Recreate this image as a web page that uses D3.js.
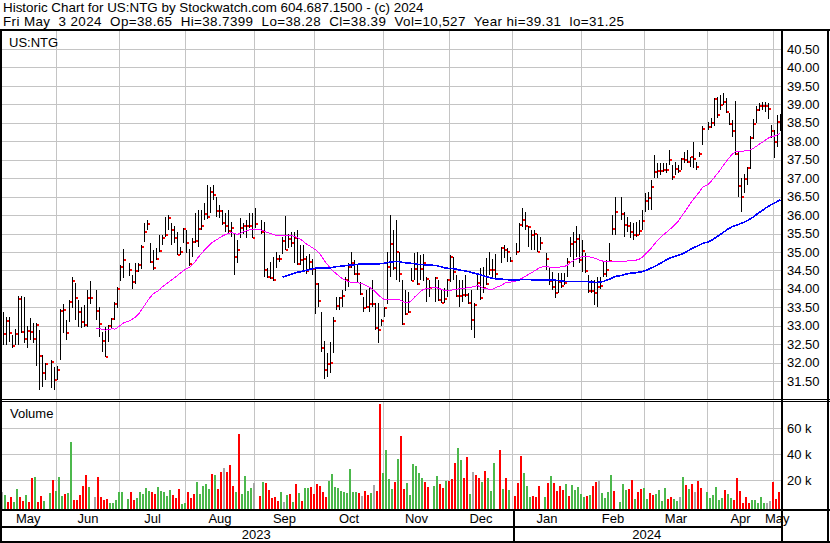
<!DOCTYPE html>
<html><head><meta charset="utf-8">
<script src="https://cdn.jsdelivr.net/npm/d3@7"></script>
<style>
body{margin:0;background:#fff;}
svg text{font-family:"Liberation Sans",Arial,sans-serif;fill:#000;}
</style></head><body><svg id="c" width="830" height="543"></svg>
<script>
// ---------------- data ----------------
const titleLine1 = "Historic Chart for US:NTG by Stockwatch.com 604.687.1500 - (c) 2024";
const titleLine2 = "Fri May  3 2024  Op=38.65  Hi=38.7399  Lo=38.28  Cl=38.39  Vol=10,527  Year hi=39.31  lo=31.25";
const symbol = "US:NTG";
const firstDay = "2023-05-08", lastDay = "2024-05-03";
const holidays = ["2023-05-29","2023-06-19","2023-07-04","2023-09-04","2023-11-23","2023-12-25","2024-01-01","2024-01-15","2024-02-19","2024-03-29"];

const high = [
33.38,33.25,33.23,32.75,32.9,33.81,33.8,33.77,32.98,33.2,33.07,33.07,32.89,32.2,32.0,
32.07,31.87,31.9,33.45,33.59,33.16,33.7,34.33,34.15,33.7,33.52,33.56,33.97,34.2,
33.97,33.52,32.84,32.97,33.02,33.2,33.65,34.06,34.65,35.07,
34.69,34.38,34.69,34.71,35.19,35.78,35.87,35.23,35.05,35.1,
35.46,35.46,35.96,36.0,35.78,35.69,35.55,35.14,35.64,35.59,
35.07,35.37,36.05,36.14,36.14,36.32,36.81,36.77,36.81,36.5,
36.27,36.14,36.05,36.14,35.8,35.5,35.32,35.91,35.78,35.87,
36.05,36.05,36.19,
35.87,35.8,34.56,34.74,34.87,35.01,34.92,35.4,35.97,35.5,
35.55,35.55,35.59,35.19,35.2,34.9,34.95,34.8,34.56,34.15,
33.38,32.6,32.25,32.57,33.25,33.79,33.79,33.97,34.33,34.69,
35.0,34.78,34.65,34.19,33.79,33.97,34.01,34.24,33.61,33.61,
33.17,33.52,35.0,36.0,35.59,35.87,35.0,34.24,33.97,33.92,
34.56,34.98,35.0,34.92,34.95,34.33,34.24,
34.33,34.24,33.97,34.01,34.28,34.92,34.87,34.38,34.24,34.24,
34.38,33.88,33.97,33.61,34.42,34.56,34.6,34.83,35.0,34.8,
34.95,
35.14,35.19,35.1,34.87,
35.23,35.78,36.18,36.09,35.69,35.59,35.59,35.5,35.4,
34.96,34.6,34.47,34.24,34.42,34.42,34.42,34.83,35.41,35.55,
35.69,35.5,35.33,34.96,34.38,34.24,34.24,34.33,34.33,34.74,
34.78,35.24,36.0,36.5,
36.5,36.09,35.96,35.82,35.78,35.82,35.87,36.14,36.59,36.63,
36.95,37.63,37.4,37.4,37.4,37.4,37.77,37.36,37.45,37.36,
37.54,37.72,37.77,37.58,37.99,37.45,37.72,38.4,
38.53,38.62,39.17,39.21,39.25,39.31,39.17,38.76,38.58,39.1,
37.7,37.0,37.1,37.3,38.13,38.6,38.95,39.05,39.07,39.07,
39.03,38.45,38.3,38.7,38.7399];

const low = [
32.48,32.48,32.57,32.39,32.48,32.48,32.8,32.53,32.39,32.61,32.52,31.92,31.25,31.35,31.53,
31.3,31.26,31.53,32.07,32.8,32.61,33.11,33.47,33.15,32.97,32.93,32.97,32.97,33.59,
33.15,32.7,32.3,32.14,32.57,32.93,33.15,33.47,34.2,34.3,
34.36,34.0,34.13,34.47,34.53,35.28,35.59,34.71,34.51,34.78,
35.0,35.19,35.41,35.59,35.19,35.23,34.92,34.92,35.23,34.96,
34.62,34.87,35.23,35.14,35.59,35.87,35.89,36.05,36.41,35.96,
35.91,35.73,35.55,35.5,35.4,34.38,34.69,35.37,35.5,35.37,
35.64,35.37,35.64,
35.5,34.33,34.3,34.28,34.2,34.56,34.74,34.95,35.05,35.1,
35.14,34.69,34.65,34.65,34.45,34.4,34.5,34.38,33.33,33.5,
32.3,31.55,31.62,31.71,32.25,33.43,33.43,33.52,33.95,34.06,
34.56,34.38,34.15,33.83,33.38,33.47,33.38,33.52,32.88,32.52,
32.98,33.25,33.6,34.33,34.5,34.24,34.19,33.02,33.29,33.34,
34.2,34.24,34.1,34.24,34.2,33.65,33.79,
33.65,33.68,33.61,33.61,33.79,34.19,34.24,33.78,33.52,33.65,
33.79,33.6,32.88,32.66,33.97,33.7,33.88,34.1,34.37,34.3,
34.3,
34.69,34.83,34.74,34.74,
34.92,35.0,35.68,35.59,35.14,35.05,35.05,35.0,35.05,
34.51,34.1,33.97,33.74,33.88,34.01,34.1,34.33,34.87,34.6,
34.87,34.69,34.47,34.42,33.88,33.88,33.56,33.52,34.0,34.33,
34.33,34.74,35.46,35.46,
35.87,35.41,35.55,35.37,35.32,35.41,35.46,35.6,36.09,36.14,
36.14,37.0,37.0,37.09,37.18,37.13,37.36,36.95,37.09,37.13,
37.22,37.4,37.4,37.31,37.27,37.22,37.58,37.9,
38.3,38.35,38.4,38.62,38.85,38.98,38.76,38.44,38.12,37.63,
36.5,36.09,36.6,36.82,37.25,38.05,38.5,38.82,38.85,38.78,
38.6,38.08,37.55,37.85,38.28];

const close = [
32.77,33.14,32.81,32.46,32.77,33.73,32.84,32.65,32.87,32.83,32.65,33.03,32.18,31.73,31.95,
32.03,31.52,31.81,33.41,33.43,32.81,33.64,34.22,33.74,33.38,33.11,33.02,33.74,33.74,
33.41,33.05,32.6,32.16,33.0,33.17,33.58,33.99,34.6,34.78,
34.5,34.19,34.49,34.65,35.14,35.53,35.75,34.74,34.56,34.82,
35.03,35.39,35.46,35.92,35.59,35.38,34.93,35.01,35.63,35.23,
34.67,35.27,35.31,35.63,35.71,36.03,35.96,36.63,36.53,36.12,
36.12,35.79,35.69,35.57,35.65,34.87,35.05,35.64,35.7,35.71,
35.71,35.38,35.75,
35.55,34.51,34.33,34.3,34.25,34.8,34.8,35.3,35.05,35.36,
35.25,35.39,34.67,34.78,34.8,34.49,34.74,34.53,34.13,33.68,
32.4,31.8,31.96,32.0,33.14,33.53,33.74,33.8,34.24,34.6,
34.71,34.4,34.4,33.86,33.47,33.52,33.59,33.59,32.93,32.88,
33.14,33.49,34.6,35.21,34.56,35.01,34.39,33.04,33.32,33.38,
34.22,34.53,34.13,34.53,34.71,34.27,34.03,
34.3,33.7,33.62,33.72,34.24,34.85,34.45,33.8,33.81,33.83,
33.83,33.62,33.15,33.56,34.17,33.74,34.01,34.13,34.51,34.51,
34.39,
35.1,35.05,34.99,34.76,
35.0,35.73,35.87,35.69,35.67,35.45,35.48,35.01,35.25,
34.81,34.2,34.06,33.88,34.18,34.08,34.15,34.74,35.22,35.26,
35.35,34.78,35.03,34.49,33.95,33.95,33.88,34.04,34.09,34.4,
34.51,34.75,35.63,36.09,
36.02,35.72,35.71,35.55,35.46,35.46,35.58,35.85,36.39,36.47,
36.77,37.18,37.2,37.2,37.22,37.22,37.49,37.04,37.25,37.2,
37.52,37.49,37.45,37.57,37.51,37.29,37.66,38.34,
38.38,38.5,39.14,38.72,38.97,39.07,38.79,38.47,38.28,37.66,
36.79,36.5,36.98,37.27,38.1,38.46,38.85,38.95,38.96,38.95,
38.87,38.29,37.99,38.53,38.39];

// volume in thousands of shares
const volumeK = [
10.9,8.4,3.2,7.1,3.2,13.0,7.1,3.7,8.4,3.2,21.8,22.6,3.2,7.6,3.7,
10.1,20.0,11.5,22.6,7.8,8.8,10.1,49.6,4.5,4.5,8.4,15.6,23.8,14.6,
6.5,22.6,7.1,4.5,5.0,2.4,2.4,4.5,10.7,10.7,
5.2,10.9,4.5,5.8,10.9,8.8,14.0,11.5,10.9,9.4,
14.8,11.5,10.4,7.6,12.2,8.4,5.8,13.0,1.1,2.4,
10.9,6.3,8.8,18.7,9.1,15.6,16.6,13.0,24.9,23.8,
13.0,26.4,29.1,25.9,31.6,15.6,10.9,55.6,9.1,23.3,
11.5,13.5,17.7,
7.6,18.4,17.4,12.2,5.8,7.1,3.7,10.9,3.2,8.4,
8.8,3.2,16.9,10.1,3.7,13.8,13.8,14.8,9.4,16.6,
15.3,10.9,7.1,19.2,24.6,14.3,13.5,11.7,10.7,10.1,
28.5,10.7,10.7,9.6,7.6,11.5,8.4,10.1,16.1,11.5,
78.8,25.6,43.2,20.5,13.0,18.2,36.2,54.0,13.0,17.7,
8.4,32.4,30.8,25.4,21.8,18.2,14.6,
15.6,23.3,16.9,13.8,19.5,19.5,20.8,33.1,44.7,35.4,
21.8,37.7,9.1,26.2,23.6,21.3,18.4,26.9,21.8,11.5,
33.1,
43.2,13.0,21.6,12.5,
7.6,17.7,38.5,25.4,15.6,6.8,7.6,6.8,15.3,
7.1,17.7,23.1,17.7,11.5,15.6,12.2,16.6,7.6,16.1,
12.2,14.3,9.1,7.1,7.6,8.4,15.6,18.4,19.2,9.6,
6.3,10.4,23.8,11.5,
2.9,16.9,12.2,13.0,20.0,5.2,10.7,13.0,13.8,5.2,
10.1,8.4,9.1,12.2,3.7,14.0,5.5,6.8,5.0,3.7,
6.8,22.3,16.1,13.0,16.9,10.9,19.2,13.8,
10.9,6.3,8.6,14.8,4.5,6.3,12.2,8.8,5.8,4.5,
21.8,11.5,2.4,7.1,2.4,4.5,4.5,2.4,7.1,2.4,
1.9,3.7,18.7,5.2,10.527];

// u = up day (green), d = down day (red), n = unchanged (grey)
const volumeDirection = (
"nudduudduddudd u" +
"uduuuduudddddun" +
"dddduuuuuu" +
"dduuuuudduuuuuddduuddduuuuududdnddduduuuund u" +
"dddddunudududuudddddduuuuuuuuuudnddunddu uuudu ddu uuuuudduudd" +
"uddduuddunddudu uudu d" +
"uddd" +
"uuudddudu" +
"ddddudu uuuudu ddnuuuuduuu" +
"ddudduudduuuudduunudud ndduuu" +
"uuuduuddddd duuuuunndddud"
).replace(/ /g, "").split("");

const priceTicks = [31.5,32,32.5,33,33.5,34,34.5,35,35.5,36,36.5,37,37.5,38,38.5,39,39.5,40,40.5];
const volumeTicks = [20000, 40000, 60000];
const maPeriods = [30, 90];
const maColors = ["#ff00ff", "#0000ff"];

// ---------------- build ----------------
const parse = d3.utcParse("%Y-%m-%d"), fmt = d3.utcFormat("%Y-%m-%d");
const weekdays = d3.utcDays(parse(firstDay), d3.utcDay.offset(parse(lastDay), 1))
  .filter(d => d.getUTCDay() !== 0 && d.getUTCDay() !== 6);
const keys = weekdays.map(fmt);
const tradingKeys = keys.filter(k => !holidays.includes(k));
const bars = tradingKeys.map((k, i) => ({key: k, h: high[i], l: low[i], c: close[i], v: volumeK[i] * 1000, dir: volumeDirection[i]}));

const svg = d3.select("#c");
const W = 830;
const plotL = 2, plotR = 781;
const x = d3.scalePoint().domain(keys).range([3, 780]);
const yP = d3.scaleLinear().domain([31.5, 40.5]).range([381.1, 49]);
const yV = d3.scaleLinear().domain([0, 80000]).range([505.8, 402.4]);
const gridColor = "#c4c4c4";

svg.append("rect").attr("width", W).attr("height", 543).attr("fill", "#fff");

// title
svg.append("text").attr("x", 3).attr("y", 12).style("font-size", "13.4px").text(titleLine1);
svg.append("text").attr("x", 3).attr("y", 26).style("font-size", "13.4px").style("letter-spacing", "0.39px")
  .attr("xml:space", "preserve").style("white-space", "pre").text(titleLine2);

// month boundaries: slot of last weekday on or before the 1st of each month
const months = d3.utcMonths(d3.utcMonth.ceil(parse(firstDay)), d3.utcDay.offset(parse(lastDay), 1));
function slotFor(date) {
  let d = date;
  while (d.getUTCDay() === 0 || d.getUTCDay() === 6) d = d3.utcDay.offset(d, -1);
  return fmt(d);
}
const monthX = months.map(m => x(slotFor(m)) - 0.5);

const g = svg.append("g").attr("shape-rendering", "crispEdges");

// grid: price panel
g.selectAll(".hp").data(priceTicks).join("line")
  .attr("x1", plotL).attr("x2", plotR).attr("y1", d => Math.round(yP(d)) + 0.5).attr("y2", d => Math.round(yP(d)) + 0.5)
  .attr("stroke", gridColor);
g.selectAll(".vp").data(monthX).join("line")
  .attr("x1", d => d).attr("x2", d => d).attr("y1", 31).attr("y2", 399)
  .attr("stroke", gridColor);
// grid: volume panel
g.selectAll(".hv").data(volumeTicks).join("line")
  .attr("x1", plotL).attr("x2", plotR).attr("y1", d => Math.round(yV(d)) + 0.5).attr("y2", d => Math.round(yV(d)) + 0.5)
  .attr("stroke", gridColor);
g.selectAll(".vv").data(monthX).join("line")
  .attr("x1", d => d).attr("x2", d => d).attr("y1", 402).attr("y2", 509)
  .attr("stroke", gridColor);

// labels in panels
svg.append("text").attr("x", 9).attr("y", 46.5).style("font-size", "13px").text(symbol);
svg.append("text").attr("x", 10).attr("y", 417.5).style("font-size", "13px").text("Volume");

// volume bars
const volColor = {u: "#4cb84c", d: "#ff0000", n: "#a8a8a8"};
g.selectAll(".vb").data(bars).join("rect")
  .attr("x", d => x(d.key) - 2).attr("width", 2)
  .attr("y", d => Math.round(yV(d.v))).attr("height", d => 509 - Math.round(yV(d.v)))
  .attr("fill", d => volColor[d.dir]);

// price bars
g.selectAll(".pb").data(bars).join("rect")
  .attr("x", d => x(d.key)).attr("width", 1)
  .attr("y", d => Math.round(yP(d.h))).attr("height", d => Math.max(1, Math.round(yP(d.l)) - Math.round(yP(d.h))))
  .attr("fill", "#000");

// moving averages
maPeriods.forEach((p, j) => {
  const pts = [];
  for (let i = p - 1; i < bars.length; i++) {
    const m = d3.mean(bars.slice(i - p + 1, i + 1), d => d.c);
    pts.push([x(bars[i].key) + 0.5, yP(m)]);
  }
  svg.append("path").attr("d", d3.line()(pts)).attr("fill", "none")
    .attr("shape-rendering", "crispEdges")
    .attr("stroke", maColors[j]).attr("stroke-width", j === 0 ? 1 : 1.6);
});

// close ticks
g.selectAll(".ct").data(bars).join("rect")
  .attr("x", d => x(d.key) + 1).attr("width", 2)
  .attr("y", d => Math.round(yP(d.c)) - 1).attr("height", 2)
  .attr("fill", "#ff0000");

// frame
const blk = (x0, y0, w, h) => g.append("rect").attr("x", x0).attr("y", y0).attr("width", w).attr("height", h).attr("fill", "#000");
blk(0, 29, W, 2);           // top
blk(0, 29, 2, 514);         // left
blk(827, 29, 2, 514);       // right
blk(781, 29, 2, 514);       // axis separator
blk(0, 399, W, 1); blk(0, 401, W, 1); // panel separator
blk(0, 509, W, 2);          // volume bottom
blk(0, 526, 783, 2);        // month/year separator
blk(0, 541, W, 2);          // bottom

// year separator
const janIdx = months.findIndex(m => m.getUTCMonth() === 0);
blk(Math.round(monthX[janIdx]), 511, 1.5, 31);

// right axis labels
svg.selectAll(".pl").data(priceTicks).join("text")
  .attr("x", 787).attr("y", d => yP(d) + 4.6).style("font-size", "13px")
  .text(d => d.toFixed(2));
svg.selectAll(".vl").data(volumeTicks).join("text")
  .attr("x", 787).attr("y", d => yV(d) + 4.6).style("font-size", "13px")
  .text(d => (d / 1000) + " k");

// month labels
const bounds = [0, ...monthX, 781];
const monthNames = [d3.utcMonth.floor(parse(firstDay)), ...months];
svg.selectAll(".ml").data(monthNames).join("text")
  .attr("x", (d, i) => (bounds[i] + bounds[i + 1]) / 2).attr("y", 523).attr("text-anchor", "middle")
  .style("font-size", "13px").text(d3.utcFormat("%b"));

// year labels
const years = [[0, monthX[janIdx], "2023"], [monthX[janIdx], 781, "2024"]];
svg.selectAll(".yl").data(years).join("text")
  .attr("x", d => (d[0] + d[1]) / 2).attr("y", 539).attr("text-anchor", "middle")
  .style("font-size", "13px").text(d => d[2]);
</script></body></html>
